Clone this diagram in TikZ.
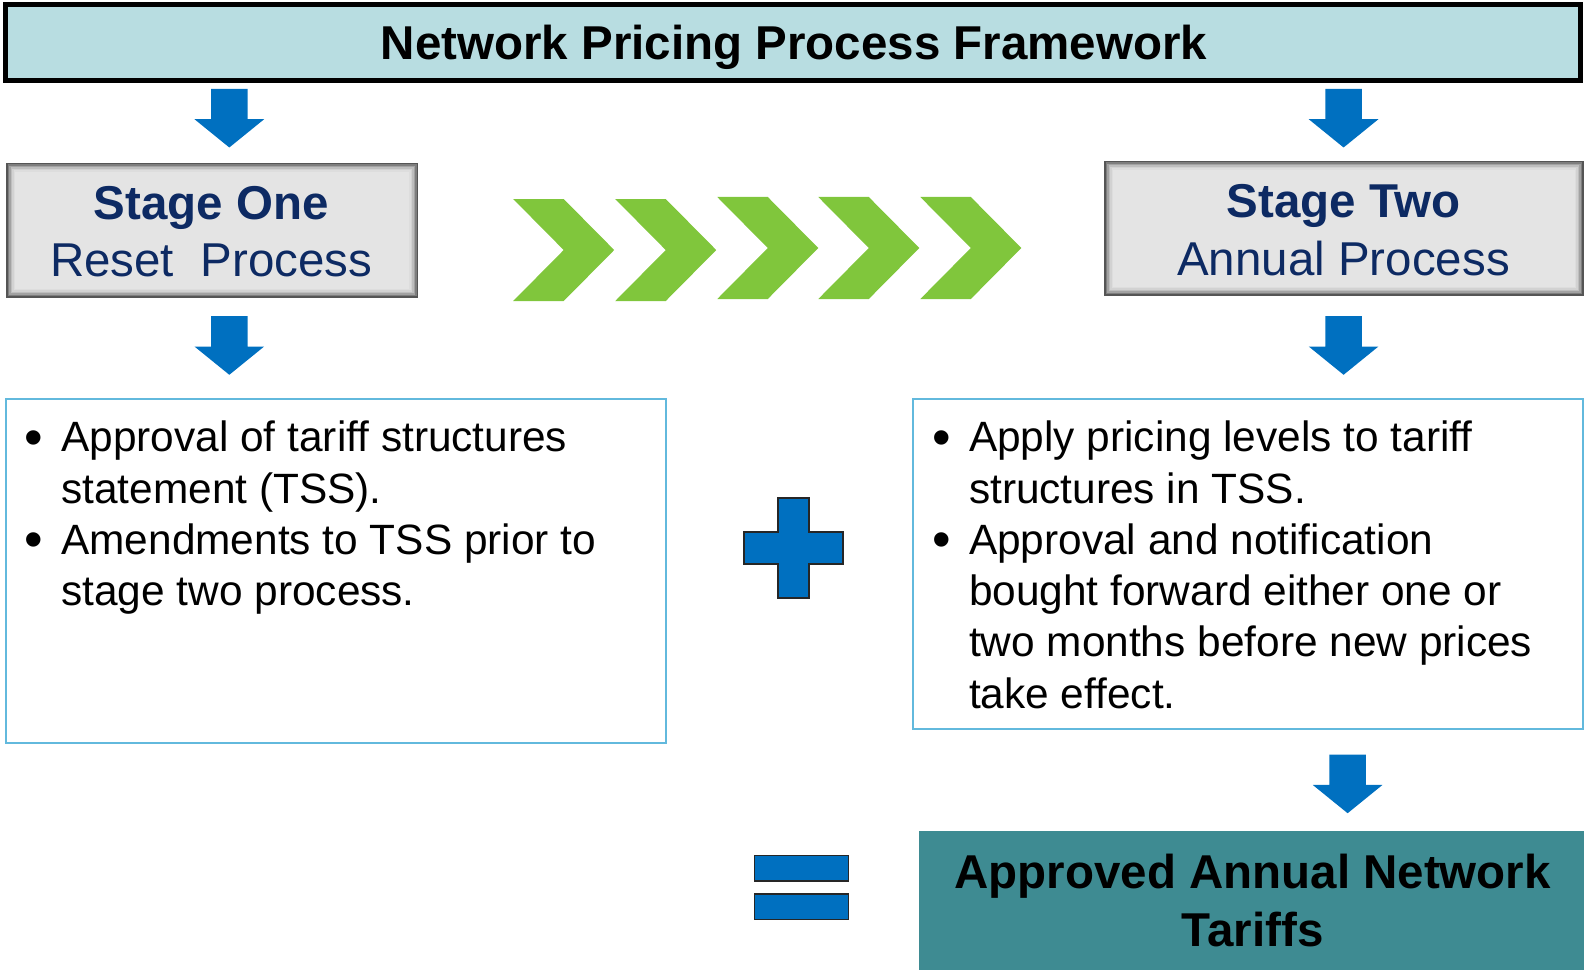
\documentclass[tikz,border=0pt]{standalone}
\usepackage{fontspec}
\usepackage{graphicx}
\setmainfont{Liberation Sans}
\usetikzlibrary{fit,calc}
\definecolor{titlefill}{HTML}{B8DDE1}
\definecolor{navytext}{HTML}{0D2A63}
\definecolor{arrowblue}{HTML}{0070C0}
\definecolor{chevgreen}{HTML}{80C63C}
\definecolor{boxblue}{HTML}{62B9DD}
\definecolor{tealfill}{HTML}{3E8B92}
\definecolor{stagegray}{HTML}{E4E4E4}
\newcommand\bigfnt{\fontsize{47.5}{57}\selectfont}
\newcommand\bodyfnt{\fontsize{42.4}{51.3}\selectfont}
\newcommand\bul{\makebox[35.9pt][l]{\hspace*{-1pt}\raisebox{-0.08em}{\scalebox{1.25}{•}}}}
\newcommand\hang{\hspace*{35.9pt}}
\tikzset{
  frame/.style={inner sep=0pt, outer sep=0pt},
  downarr/.pic={\fill[arrowblue] (-18,0) -- (18,0) -- (18,30) -- (34.5,30) -- (0,58) -- (-34.5,30) -- (-18,30) -- cycle;},
  headtext/.style={anchor=base, inner sep=0pt, font=\bigfnt},
  bodytext/.style={anchor=north west, inner sep=0pt, align=left, font=\bodyfnt},
  bulletbox/.style={frame, draw=boxblue, line width=2pt, fill=white},
  bluesym/.style={fill=arrowblue, draw=black!85, line width=2pt},
}
\begin{document}
\begin{tikzpicture}[x=1.0103pt,y=-1.0103pt]
\useasboundingbox (0,0) rectangle (1568,960);
% title
\node[frame, fit={(5.5,4.5) (1564.5,79.5)}, fill=titlefill, draw=black, line width=5pt] (title) {};
\node[headtext, font=\bigfnt\bfseries] (titletext) at (786,59) {Network Pricing Process Framework};
% top arrows
\pic at (227,88) {downarr};
\pic at (1330,88) {downarr};
% stage boxes
\node[frame, fit={(6,161) (414,295)}, fill=stagegray] (s1) {};
\node[frame, fit={(1093,159) (1568,293)}, fill=stagegray] (s2) {};
\foreach \b in {s1,s2}{
  \foreach \i/\c in {0.8/555555,2.3/7E7E7E,3.8/A2A2A2,5.3/BEBEBE,6.8/D2D2D2,8.3/DDDDDD}{
    \definecolor{bev}{HTML}{\c}
    \draw[bev, line width=1.6pt] ([shift={(\i,\i)}]\b.north west) rectangle ([shift={(-\i,-\i)}]\b.south east);
  }
}
\node[headtext, font=\bigfnt\bfseries, text=navytext] (s1a) at (209,217) {Stage One};
\node[headtext, text=navytext] (s1b) at (209,274) {Reset\ \ Process};
\node[headtext, font=\bigfnt\bfseries, text=navytext] (s2a) at (1330,215) {Stage Two};
\node[headtext, text=navytext] (s2b) at (1330,273) {Annual Process};
% chevrons
\foreach \x/\t in {508/197, 609/197, 710/195, 810/195, 911/195}{
  \fill[chevgreen] (\x,\t) -- ++(50,0) -- ++(50,50.5) -- ++(-50,50.5) -- ++(-50,0) -- ++(50,-50.5) -- cycle;
}
% second arrows
\pic at (227,313) {downarr};
\pic at (1330,313) {downarr};
% bullet boxes
\node[bulletbox, fit={(6,395) (659,735)}] (b1) {};
\node[bulletbox, fit={(904,395) (1567,722)}] (b2) {};
\node[bodytext] (b1text) at (25,411.4) {\strut\bul Approval of tariff structures\\
\strut\hang statement (TSS).\\
\strut\bul Amendments to TSS prior to\\
\strut\hang stage two process.};
\node[bodytext] (b2text) at (923.5,411.4) {\strut\bul Apply pricing levels to tariff\\
\strut\hang structures in TSS.\\
\strut\bul Approval and notification\\
\strut\hang bought forward either one or\\
\strut\hang two months before new prices\\
\strut\hang take effect.};
% plus
\draw[bluesym] (770,493) -- (801,493) -- (801,527) -- (834,527) -- (834,558) -- (801,558) -- (801,592) -- (770,592) -- (770,558) -- (736,558) -- (736,527) -- (770,527) -- cycle;
% bottom arrow
\pic at (1334,747) {downarr};
% equals
\draw[bluesym, line width=1.5pt] (747,847) rectangle (840,872);
\draw[bluesym, line width=1.5pt] (747,885) rectangle (840,910);
% final box
\node[frame, fit={(910,823) (1568,960)}, fill=tealfill] (final) {};
\node[headtext, font=\bigfnt\bfseries] (fa) at (1240,880) {Approved Annual Network};
\node[headtext, font=\bigfnt\bfseries] (fb) at (1240,937) {Tariffs};
\end{tikzpicture}
\end{document}
